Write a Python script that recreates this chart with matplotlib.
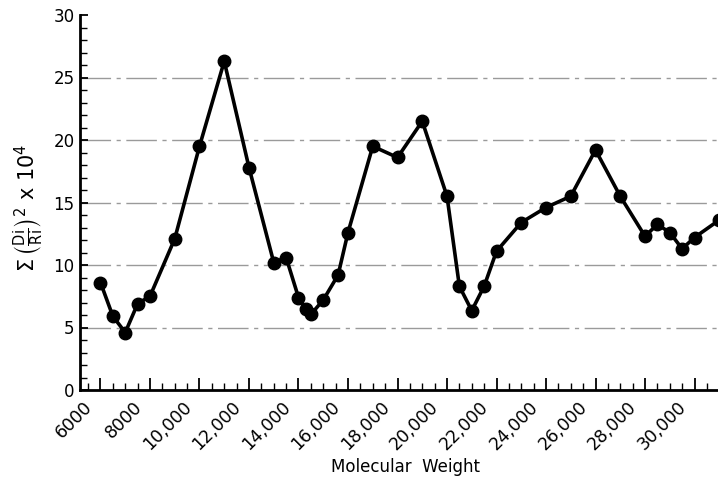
import matplotlib
matplotlib.use("Agg")
import matplotlib.pyplot as plt
from matplotlib.ticker import MultipleLocator, FixedLocator
from matplotlib.transforms import ScaledTranslation

# Data
mol_weight = [6000, 6500, 7000, 7500, 8000, 9000, 10000, 11000, 12000, 13000,
              13500, 14000, 14300, 14500, 15000, 15600, 16000, 17000, 18000, 19000,
              20000, 20500, 21000, 21500, 22000, 23000, 24000, 25000, 26000, 27000,
              28000, 28500, 29000, 29500, 30000, 31000]
sum_sq = [8.6, 5.9, 4.6, 6.9, 7.5, 12.1, 19.5, 26.3, 17.8, 10.2,
          10.6, 7.4, 6.5, 6.05, 7.2, 9.2, 12.6, 19.5, 18.6, 21.5,
          15.5, 8.3, 6.35, 8.3, 11.1, 13.4, 14.6, 15.5, 19.2, 15.5,
          12.3, 13.25, 12.6, 11.3, 12.2, 13.6]

x_ticks = [6000, 8000, 10000, 12000, 14000, 16000, 18000, 20000, 22000,
           24000, 26000, 28000, 30000]
x_tick_labels = ["6000", "8000", "10,000", "12,000", "14,000", "16,000", "18,000",
                 "20,000", "22,000", "24,000", "26,000", "28,000", "30,000"]
y_ticks = [0, 5, 10, 15, 20, 25, 30]
y_tick_labels = ["0", "5", "10", "15", "20", "25", "30"]

plt.rcParams['font.family'] = ['DejaVu Sans']

fig = plt.figure(figsize=(7.18, 5.01), dpi=100)
ax = fig.add_axes([80/718, 1-390/501, 1-80/718, (390-15)/501])

ax.set_xlim(5172, 30949)
ax.set_ylim(0, 30)

# grid lines
for yv in y_ticks[1:-1]:
    ax.axhline(yv, color="#9a9a9a", lw=1.0, ls=(0, (22, 4, 3, 4)), zorder=1)

ax.plot(mol_weight, sum_sq, color="black", lw=2.6, marker="o", ms=9,
        zorder=3, clip_on=False)

for s in ["top", "right"]:
    ax.spines[s].set_visible(False)
ax.spines["left"].set_linewidth(2.0)
ax.spines["bottom"].set_linewidth(2.0)

ax.xaxis.set_major_locator(FixedLocator(x_ticks))
ax.xaxis.set_minor_locator(MultipleLocator(500))
ax.yaxis.set_major_locator(FixedLocator(y_ticks))
ax.yaxis.set_minor_locator(MultipleLocator(1))

ax.tick_params(axis="x", which="major", direction="in", length=9, width=1.3, pad=8)
ax.tick_params(axis="x", which="minor", direction="in", length=5, width=1.0)
ax.tick_params(axis="y", which="major", direction="in", length=6, width=1.3, pad=4)
ax.tick_params(axis="y", which="minor", direction="in", length=5, width=1.0)

ax.set_xticklabels(x_tick_labels, rotation=45, ha="right", va="center",
                   rotation_mode="anchor", fontsize=12.5)
ax.set_yticklabels(y_tick_labels, fontsize=12)
offset = ScaledTranslation(-11/100, -3/100, fig.dpi_scale_trans)
for tick in ax.xaxis.get_major_ticks():
    tick.label1.set_transform(tick.label1.get_transform() + offset)

ax.set_xlabel("Molecular  Weight", fontsize=12)
ax.xaxis.set_label_coords(0.51, -0.18)
ax.set_ylabel(r"$\Sigma\,\left(\frac{\mathrm{Di}}{\mathrm{Ri}}\right)^2$ x 10$^4$", fontsize=15)
ax.yaxis.set_label_coords(-0.054, 0.485)

fig.savefig("out.png", dpi=100)
